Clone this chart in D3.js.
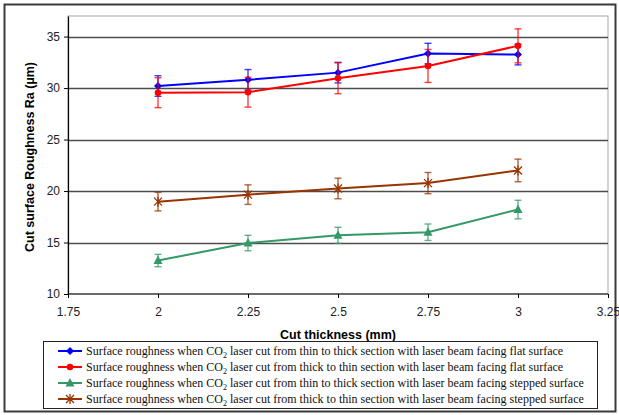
<!DOCTYPE html>
<html>
<head>
<meta charset="utf-8">
<script src="https://cdn.jsdelivr.net/npm/d3@7"></script>
<style>
  html, body { margin: 0; padding: 0; background: #fff; }
  svg { display: block; }
</style>
</head>
<body>
<svg id="chart" width="619" height="415"></svg>
<script>
// Cut thickness (mm)
const thickness = [2, 2.25, 2.5, 2.75, 3];

// Mean surface roughness Ra (µm) per series
const thinToThickFlat    = [30.2, 30.8, 31.5, 33.35, 33.25];
const thickToThinFlat    = [29.55, 29.6, 30.95, 32.15, 34.1];
const thinToThickStepped = [13.25, 14.95, 15.7, 16.0, 18.2];
const thickToThinStepped = [18.97, 19.65, 20.25, 20.77, 22.0];

// Error bar half-widths (µm)
const errThinToThickFlat    = [1.0, 1.0, 1.0, 1.0, 1.0];
const errThickToThinFlat    = [1.45, 1.45, 1.5, 1.6, 1.65];
const errThinToThickStepped = [0.6, 0.75, 0.78, 0.8, 0.9];
const errThickToThinStepped = [0.9, 0.95, 1.0, 1.03, 1.1];

const xTicks = [1.75, 2, 2.25, 2.5, 2.75, 3, 3.25];
const yTicks = [10, 15, 20, 25, 30, 35];

const legendPrefix = "Surface roughness when CO";
const legendSuffixes = [
  " laser cut from thin to thick section with laser beam facing flat surface",
  " laser cut from thick to thin section with laser beam facing flat surface",
  " laser cut from thin to thick section with laser beam facing stepped surface",
  " laser cut from thick to thin section with laser beam facing stepped surface"
];

const series = [
  { values: thinToThickFlat,    err: errThinToThickFlat,    color: "#0000ff", marker: "diamond" },
  { values: thickToThinFlat,    err: errThickToThinFlat,    color: "#ff0000", marker: "circle" },
  { values: thinToThickStepped, err: errThinToThickStepped, color: "#339966", marker: "triangle" },
  { values: thickToThinStepped, err: errThickToThinStepped, color: "#993300", marker: "star" }
];

const svg = d3.select("#chart");
const plot = { left: 68, right: 608, top: 16, bottom: 294 };

const x = d3.scaleLinear().domain([1.75, 3.25]).range([plot.left, plot.right]);
const y = d3.scaleLinear().domain([10, 37]).range([plot.bottom, plot.top]);

// Outer frame
svg.append("rect")
  .attr("x", 4.5).attr("y", 4.5).attr("width", 611).attr("height", 407)
  .attr("fill", "#fff").attr("stroke", "#3a3a3a").attr("stroke-width", 2);

// Plot area border (top/right grey)
svg.append("rect")
  .attr("x", plot.left).attr("y", plot.top)
  .attr("width", plot.right - plot.left).attr("height", plot.bottom - plot.top)
  .attr("fill", "#fff").attr("stroke", "#a6a6a6").attr("stroke-width", 1);

// Horizontal gridlines
svg.append("g").selectAll("line")
  .data(yTicks.filter(t => t > 10))
  .join("line")
  .attr("x1", plot.left).attr("x2", plot.right)
  .attr("y1", d => Math.round(y(d)) + 0.5).attr("y2", d => Math.round(y(d)) + 0.5)
  .attr("stroke", "#4d4d4d").attr("stroke-width", 1.3);

// Axes
const xAxis = svg.append("g")
  .attr("transform", `translate(0,${plot.bottom})`)
  .call(d3.axisBottom(x).tickValues(xTicks).tickFormat(d => String(d)).tickSize(4).tickSizeOuter(0));
const yAxis = svg.append("g")
  .attr("transform", `translate(${plot.left},0)`)
  .call(d3.axisLeft(y).tickValues(yTicks).tickFormat(d3.format("d")).tickSize(4).tickSizeOuter(0));

[xAxis, yAxis].forEach(g => {
  g.select(".domain").attr("stroke", "#000").attr("stroke-width", 1.2);
  g.selectAll(".tick line").attr("stroke", "#000");
  g.selectAll(".tick text")
    .attr("font-family", "Liberation Sans, Arial, sans-serif")
    .attr("font-size", 12).attr("fill", "#222");
});
xAxis.selectAll(".tick text").attr("dy", "1.25em");
yAxis.selectAll(".tick text").attr("x", -8);
xAxis.select(".domain").attr("d", `M${plot.left},0H${plot.right}`);

// Axis titles
svg.append("text")
  .attr("x", (plot.left + plot.right) / 2).attr("y", 339)
  .attr("text-anchor", "middle")
  .attr("font-family", "Liberation Sans, Arial, sans-serif")
  .attr("font-size", 12.5).attr("font-weight", "bold")
  .text("Cut thickness (mm)");

svg.append("text")
  .attr("transform", `translate(34,${(plot.top + plot.bottom) / 2 + 2}) rotate(-90)`)
  .attr("text-anchor", "middle")
  .attr("font-family", "Liberation Sans, Arial, sans-serif")
  .attr("font-size", 12.5).attr("font-weight", "bold")
  .text("Cut surface Roughness Ra (µm)");

// Marker drawing
function drawMarker(g, type, color, cx, cy) {
  if (type === "diamond") {
    g.append("path")
      .attr("d", `M${cx},${cy - 4}L${cx + 4},${cy}L${cx},${cy + 4}L${cx - 4},${cy}Z`)
      .attr("fill", color);
  } else if (type === "circle") {
    g.append("circle").attr("cx", cx).attr("cy", cy).attr("r", 3.3).attr("fill", color);
  } else if (type === "triangle") {
    g.append("path")
      .attr("d", `M${cx},${cy - 5}L${cx + 4.5},${cy + 3.5}L${cx - 4.5},${cy + 3.5}Z`)
      .attr("fill", color);
  } else if (type === "star") {
    const r = 4;
    g.append("path")
      .attr("d", `M${cx - r},${cy - r}L${cx + r},${cy + r}M${cx - r},${cy + r}L${cx + r},${cy - r}M${cx},${cy - r - 1}L${cx},${cy + r + 1}`)
      .attr("stroke", color).attr("stroke-width", 1.3).attr("fill", "none");
  }
}

const line = d3.line().x(d => x(d[0])).y(d => y(d[1]));

series.forEach(s => {
  const g = svg.append("g");
  const pts = thickness.map((t, i) => [t, s.values[i], s.err[i]]);

  // Error bars
  pts.forEach(([t, v, e]) => {
    const cx = x(t);
    g.append("line").attr("x1", cx).attr("x2", cx).attr("y1", y(v + e)).attr("y2", y(v - e))
      .attr("stroke", s.color).attr("stroke-width", 1.4).attr("stroke-opacity", 0.75);
    [v + e, v - e].forEach(vv => {
      g.append("line").attr("x1", cx - 3.5).attr("x2", cx + 3.5).attr("y1", y(vv)).attr("y2", y(vv))
        .attr("stroke", s.color).attr("stroke-width", 1.4).attr("stroke-opacity", 0.75);
    });
  });

  // Series line
  g.append("path").datum(pts).attr("d", line)
    .attr("fill", "none").attr("stroke", s.color).attr("stroke-width", 2);

  // Markers
  pts.forEach(([t, v]) => drawMarker(g, s.marker, s.color, x(t), y(v)));
});

// Legend
const legend = svg.append("g");
legend.append("rect")
  .attr("x", 43.5).attr("y", 341.5).attr("width", 554).attr("height", 67)
  .attr("fill", "#fff").attr("stroke", "#222").attr("stroke-width", 1);

series.forEach((s, i) => {
  const ly = 351 + i * 16;
  const row = legend.append("g");
  row.append("line").attr("x1", 58).attr("x2", 82).attr("y1", ly).attr("y2", ly)
    .attr("stroke", s.color).attr("stroke-width", 2);
  drawMarker(row, s.marker, s.color, 70, ly);
  const txt = row.append("text")
    .attr("x", 86).attr("y", ly + 4)
    .attr("font-family", "Liberation Serif, Times New Roman, serif")
    .attr("font-size", 12).attr("fill", "#111");
  txt.append("tspan").text(legendPrefix);
  txt.append("tspan").attr("font-size", 8).attr("dy", 3).text("2");
  txt.append("tspan").attr("dy", -3).text(legendSuffixes[i]);
});
</script>
</body>
</html>
